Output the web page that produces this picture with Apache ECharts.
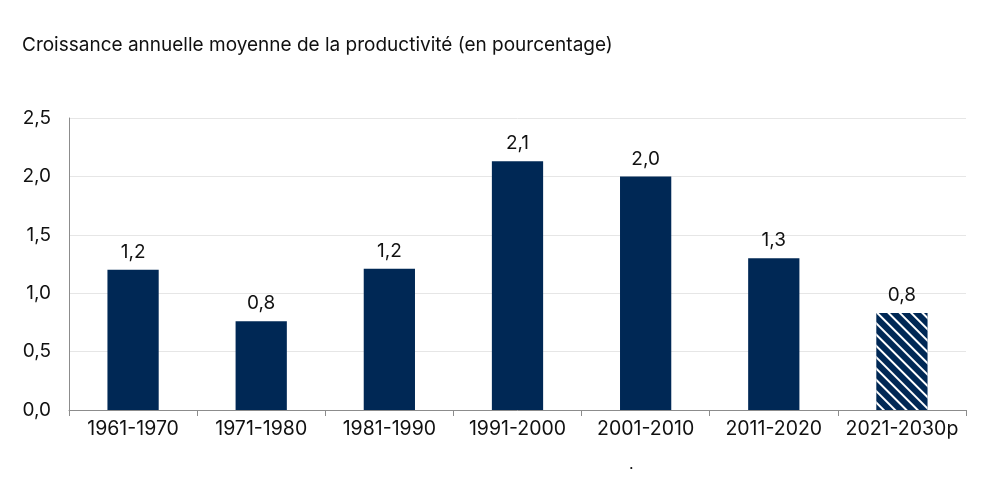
<!DOCTYPE html>
<html><head><meta charset="utf-8">
<script src="https://cdn.jsdelivr.net/npm/echarts@6/dist/echarts.min.js"></script>
<style>html,body{margin:0;padding:0;background:#fff}#c{width:989px;height:480px}</style>
</head><body><div id="c"></div>
<script>
const categories = ['1961-1970','1971-1980','1981-1990','1991-2000','2001-2010','2011-2020','2021-2030p'];
const values = [1.2, 0.76, 1.21, 2.13, 2.0, 1.3, 0.83];
const titleText = 'Croissance annuelle moyenne de la productivité (en pourcentage)';
const FONT = 'Inter, "Liberation Sans", Arial, sans-serif';
const BAR = '#002855';
const chart = echarts.init(document.getElementById('c'));
const data = values.map((v, i) => {
  const last = i === values.length - 1;
  return last ? {value: v, itemStyle: {color: BAR, decal: {symbol: 'rect', symbolSize: 1, color: '#ffffff', dashArrayX: [1, 0], dashArrayY: [1.5, 5.5], rotation: Math.PI / 4}}} : {value: v};
});
chart.setOption({
  animation: false,
  title: {text: titleText, left: 22, top: 36, padding: 0, textStyle: {fontFamily: FONT, fontSize: 19, fontWeight: 'normal', color: '#111'}},
  graphic: [{type: 'text', left: 629, top: 456, style: {text: '.', fontSize: 16, fontFamily: FONT, fill: '#111'}}],
  grid: {left: 69, right: 23, top: 118, bottom: 70, containLabel: false},
  xAxis: {
    type: 'category', data: categories,
    axisLine: {lineStyle: {color: '#8c8c8c', width: 1}},
    axisTick: {show: true, alignWithLabel: false, length: 6, lineStyle: {color: '#8c8c8c'}},
    axisLabel: {interval: 0, fontFamily: FONT, fontSize: 19.5, color: '#111', margin: 9}
  },
  yAxis: {
    type: 'value', min: 0, max: 2.5, interval: 0.5,
    axisLine: {show: true, lineStyle: {color: '#8c8c8c'}},
    axisTick: {show: false},
    splitLine: {lineStyle: {color: '#e6e6e6'}},
    axisLabel: {fontFamily: FONT, fontSize: 19, color: '#111', margin: 18,
      formatter: v => v.toFixed(1).replace('.', ',')}
  },
  series: [{
    type: 'bar', data: data, barWidth: '40%',
    itemStyle: {color: BAR},
    label: {show: true, position: 'top', distance: 8, fontFamily: FONT, fontSize: 19, color: '#111',
      formatter: p => p.value.toFixed(1).replace('.', ',')}
  }]
});
</script></body></html>
